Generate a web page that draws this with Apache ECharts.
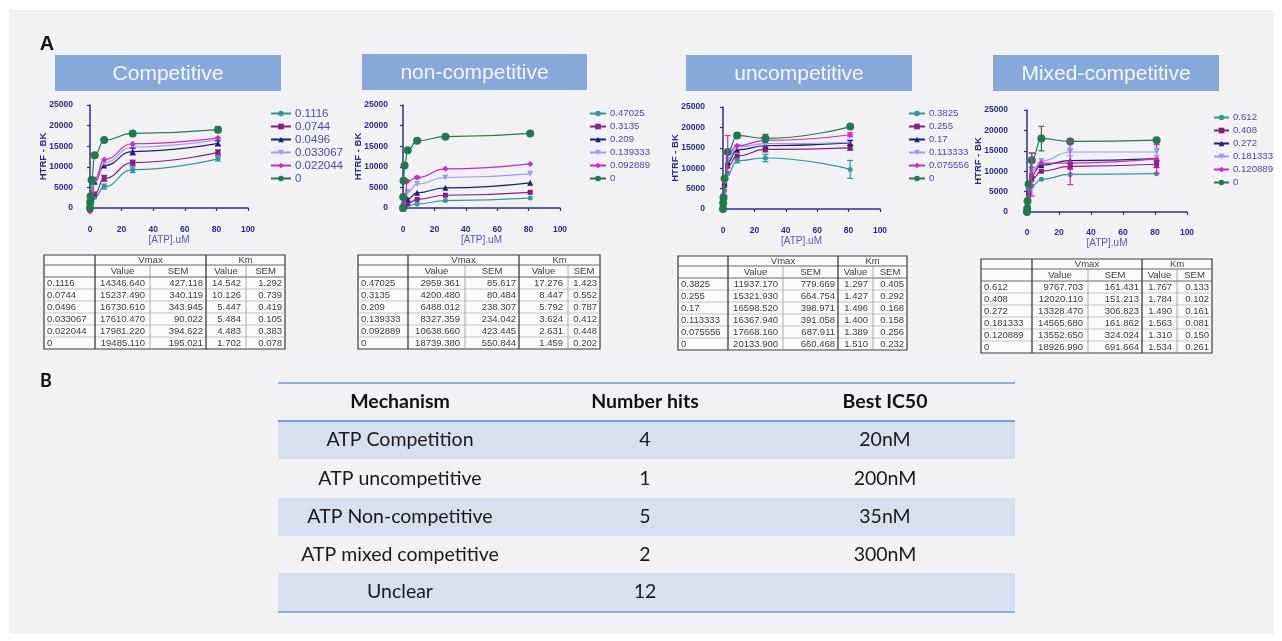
<!DOCTYPE html>
<html>
<head>
<meta charset="utf-8">
<script src="https://cdn.jsdelivr.net/npm/echarts@6/dist/echarts.min.js"></script>
<style>
html,body{margin:0;padding:0;background:#ffffff;}
#c{width:1282px;height:641px;}
</style>
</head>
<body>
<div id="c"></div>
<script>
// ---------------- DATA ----------------
const atpConc = [0, 0.111, 0.333, 1, 3, 9, 27, 81];
const panelTitles = ['Competitive', 'non-competitive', 'uncompetitive', 'Mixed-competitive'];
const axisNameY = 'HTRF - BK';
const axisNameX = '[ATP].uM';

const compNames = ['0.1116', '0.0744', '0.0496', '0.033067', '0.022044', '0'];
const compValues = [
  [-600, 200, 500, 1200, 2600, 5200, 9300, 12000],
  [-400, 300, 700, 1600, 3400, 7200, 11000, 13500],
  [-200, 500, 1200, 3000, 6400, 10300, 13700, 15700],
  [-300, 500, 1200, 3000, 6600, 11000, 14800, 16600],
  [-900, 500, 1400, 3400, 7000, 11800, 15600, 17000],
  [0, 1400, 2800, 6800, 12800, 16500, 18100, 19000]
];
// [series, point, error]
const compErrors = [[0,5,600],[0,6,700],[0,7,600],[1,5,700],[1,6,600],[1,7,600],[2,6,800],[2,7,600],[5,4,600],[5,7,700]];
const compTable = [
  [14346.640, 427.118, 14.542, 1.292],
  [15237.490, 340.119, 10.126, 0.739],
  [16730.610, 343.945, 5.447, 0.419],
  [17610.470, 90.022, 5.484, 0.105],
  [17981.220, 394.622, 4.483, 0.383],
  [19485.110, 195.021, 1.702, 0.078]
];

const noncompNames = ['0.47025', '0.3135', '0.209', '0.139333', '0.092889', '0'];
const noncompValues = [
  [0, 30, 100, 300, 600, 1000, 1800, 2400],
  [0, 50, 150, 500, 1200, 2100, 3100, 3800],
  [-100, 100, 300, 900, 2200, 3700, 4900, 6100],
  [0, 200, 600, 1800, 3900, 5800, 7400, 8300],
  [0, 400, 1200, 2700, 6500, 7400, 9500, 10700],
  [0, 2700, 6600, 10300, 14000, 16300, 17300, 18100]
];
const noncompErrors = [[5,6,300],[5,7,300],[4,5,300]];
const noncompTable = [
  [2959.361, 85.617, 17.276, 1.423],
  [4200.480, 80.484, 8.447, 0.552],
  [6488.012, 238.307, 5.792, 0.787],
  [8327.359, 234.042, 3.624, 0.412],
  [10638.660, 423.445, 2.631, 0.448],
  [18739.380, 550.844, 1.459, 0.202]
];

const uncompNames = ['0.3825', '0.255', '0.17', '0.113333', '0.075556', '0'];
const uncompValues = [
  [0, 500, 1800, 4500, 8700, 11800, 12500, 9700],
  [0, 800, 2600, 5800, 10500, 13000, 14600, 15000],
  [0, 1000, 3000, 6500, 11500, 14500, 15500, 16200],
  [0, 1000, 3000, 6500, 12000, 15200, 16000, 16300],
  [0, 1200, 3500, 7500, 13500, 15500, 16800, 18200],
  [0, 1500, 2800, 7500, 14000, 18000, 17300, 20200]
];
const uncompErrors = [[0,7,2200],[0,6,900],[0,5,500],[4,4,4500],[5,6,1000],[1,6,600],[1,7,600],[4,7,500],[2,7,600]];
const uncompTable = [
  [11937.170, 779.669, 1.297, 0.405],
  [15321.930, 664.754, 1.427, 0.292],
  [16598.520, 398.971, 1.496, 0.168],
  [16367.940, 391.058, 1.400, 0.158],
  [17668.160, 687.911, 1.389, 0.256],
  [20133.900, 660.468, 1.510, 0.232]
];

const mixedNames = ['0.612', '0.408', '0.272', '0.181333', '0.120889', '0'];
const mixedValues = [
  [0, 400, 1500, 3600, 6400, 8000, 9200, 9400],
  [0, 500, 2000, 4500, 8000, 10000, 11200, 11700],
  [0, 600, 2200, 4800, 9300, 11500, 12600, 13100],
  [0, 700, 2400, 5600, 10000, 12500, 14700, 14700],
  [0, 600, 2000, 4000, 9200, 12000, 12000, 13000],
  [0, 800, 2700, 6800, 12700, 18000, 17300, 17600]
];
const mixedErrors = [[5,5,3000],[5,4,1700],[4,6,5300],[4,4,5300],[4,7,3500],[3,6,900],[3,7,900],[1,7,800],[1,6,700]];
const mixedTable = [
  [9767.703, 161.431, 1.767, 0.133],
  [12020.110, 151.213, 1.784, 0.102],
  [13328.470, 306.823, 1.490, 0.161],
  [14565.680, 161.862, 1.563, 0.081],
  [13552.650, 324.024, 1.310, 0.150],
  [18926.990, 691.664, 1.534, 0.261]
];

const tableGroupHeaders = ['Vmax', 'Km'];
const tableSubHeaders = ['Value', 'SEM', 'Value', 'SEM'];

const summaryHeader = ['Mechanism', 'Number hits', 'Best IC50'];
const summaryMechanism = ['ATP Competition', 'ATP uncompetitive', 'ATP Non-competitive', 'ATP mixed competitive', 'Unclear'];
const summaryHits = ['4', '1', '5', '2', '12'];
const summaryIC50 = ['20nM', '200nM', '35nM', '300nM', ''];

// ---------------- STYLE / LAYOUT ----------------
const seriesStyles = [
  {color: '#2a9aa0', symbol: 'circle', size: 5},
  {color: '#8c1c80', symbol: 'rect', size: 5},
  {color: '#1e1e7c', symbol: 'triangle', size: 6},
  {color: '#9c9cf2', symbol: 'path://M0,0 L10,0 L5,9 Z', size: 6},
  {color: '#d426c6', symbol: 'diamond', size: 6},
  {color: '#1f7a4e', symbol: 'circle', size: 8}
];
const panels = [
  {names: compNames, values: compValues, errors: compErrors, table: compTable},
  {names: noncompNames, values: noncompValues, errors: noncompErrors, table: noncompTable},
  {names: uncompNames, values: uncompValues, errors: uncompErrors, table: uncompTable},
  {names: mixedNames, values: mixedValues, errors: mixedErrors, table: mixedTable}
];
const layout = [
  {grid: {left: 90, top: 105, width: 158, height: 103}, yOff: 12, xOff: 13, legend: {left: 270, top: 107, iw: 20, fs: 11.5}, box: [55, 55, 226, 36], tTop: 255, cols: [44, 95, 150, 206, 246, 285]},
  {grid: {left: 403, top: 105, width: 157, height: 103}, yOff: 10, xOff: 13, legend: {left: 589, top: 107, iw: 16, fs: 9.6}, box: [362, 54, 225, 36], tTop: 255, cols: [358, 408, 465, 519, 568, 600]},
  {grid: {left: 723, top: 107, width: 157, height: 102}, yOff: 13, xOff: 13, legend: {left: 908, top: 107, iw: 16, fs: 9.6}, box: [686, 55, 226, 36], tTop: 256, cols: [678, 728, 783, 838, 873, 907]},
  {grid: {left: 1027, top: 110, width: 160, height: 102}, yOff: 14, xOff: 12, legend: {left: 1213, top: 111, iw: 15, fs: 9.6}, box: [993, 55, 226, 36], tTop: 259, cols: [981, 1032, 1088, 1142, 1177, 1212]}
];
const AX = '#2e2e96';
const LBL = '#2a2a8c';
const SANS = '"Liberation Sans", Arial, sans-serif';
const BFONT = 'Lato, sans-serif';

// ---------------- BUILD ----------------
const grids = [], xAxes = [], yAxes = [], series = [], legends = [], graphics = [];

graphics.push({type: 'rect', z: -100, shape: {x: 9, y: 10, width: 1265, height: 624}, style: {fill: '#f2f2f4'}, silent: true});
graphics.push({type: 'text', x: 47, y: 44, style: {text: 'A', font: 'bold 20px ' + SANS, fill: '#111', align: 'center', verticalAlign: 'middle'}});
graphics.push({type: 'text', x: 46, y: 381, style: {text: 'B', font: 'bold 18px ' + BFONT, fill: '#111', align: 'center', verticalAlign: 'middle'}});

function hline(x1, x2, y, color, w) {
  return {type: 'line', shape: {x1: x1, y1: y, x2: x2, y2: y}, style: {stroke: color, lineWidth: w}, silent: true};
}
function vline(x, y1, y2, color, w) {
  return {type: 'line', shape: {x1: x, y1: y1, x2: x, y2: y2}, style: {stroke: color, lineWidth: w}, silent: true};
}
function txt(x, y, s, font, color, align) {
  return {type: 'text', x: x, y: y, silent: true, style: {text: s, font: font, fill: color, align: align || 'center', verticalAlign: 'middle'}};
}
function plainNum(v) { return String(v); }

panels.forEach(function (p, pi) {
  const L = layout[pi];
  grids.push(Object.assign({}, L.grid));
  xAxes.push({
    type: 'value', gridIndex: pi, min: 0, max: 100, interval: 20, offset: L.xOff,
    name: axisNameX, nameLocation: 'middle', nameGap: 14, nameMoveOverlap: false,
    nameTextStyle: {color: '#5656c8', fontSize: 10, fontFamily: SANS},
    axisLine: {show: true, lineStyle: {color: AX, width: 1.5}},
    axisTick: {show: true, length: 3, lineStyle: {color: AX, width: 1.2}},
    axisLabel: {color: LBL, fontSize: 8.5, fontWeight: 'bold', fontFamily: SANS, margin: 4, formatter: plainNum},
    splitLine: {show: false}
  });
  yAxes.push({
    type: 'value', gridIndex: pi, min: 0, max: 25000, interval: 5000, offset: L.yOff,
    name: axisNameY, nameLocation: 'middle', nameGap: 30, nameRotate: 90, nameMoveOverlap: false,
    nameTextStyle: {color: LBL, fontSize: 9.5, fontWeight: 'bold', fontFamily: SANS},
    axisLine: {show: true, lineStyle: {color: AX, width: 1.5}},
    axisTick: {show: true, length: 3, lineStyle: {color: AX, width: 1.2}},
    axisLabel: {color: LBL, fontSize: 8.5, fontWeight: 'bold', fontFamily: SANS, margin: 5, formatter: plainNum},
    splitLine: {show: false}
  });
  p.names.forEach(function (nm, si) {
    const st = seriesStyles[si];
    series.push({
      type: 'line', name: nm, xAxisIndex: pi, yAxisIndex: pi,
      data: atpConc.map(function (x, k) { return [x, p.values[si][k]]; }),
      smooth: 0.5, smoothMonotone: 'x', clip: false,
      symbol: st.symbol, symbolSize: st.size, showSymbol: true,
      itemStyle: {color: st.color}, lineStyle: {color: st.color, width: 1.2},
      z: 3 + si, animation: false, silent: true
    });
  });
  series.push({
    type: 'custom', xAxisIndex: pi, yAxisIndex: pi, clip: false, animation: false, silent: true, z: 10,
    data: p.errors.map(function (e) { return [atpConc[e[1]], p.values[e[0]][e[1]], e[2], e[0]]; }),
    encode: {x: 0, y: 1},
    renderItem: function (params, api) {
      const x = api.value(0), y = api.value(1), er = api.value(2), c = seriesStyles[api.value(3)].color;
      const a = api.coord([x, y + er]), b = api.coord([x, y - er]);
      const sty = {stroke: c, lineWidth: 1.2};
      return {type: 'group', children: [
        {type: 'line', shape: {x1: a[0], y1: a[1], x2: b[0], y2: b[1]}, style: sty},
        {type: 'line', shape: {x1: a[0] - 3, y1: a[1], x2: a[0] + 3, y2: a[1]}, style: sty},
        {type: 'line', shape: {x1: b[0] - 3, y1: b[1], x2: b[0] + 3, y2: b[1]}, style: sty}
      ]};
    }
  });
  legends.push({
    data: p.names, left: L.legend.left, top: L.legend.top, orient: 'vertical', padding: 0,
    itemWidth: L.legend.iw, itemHeight: 7, itemGap: 0, selectedMode: false,
    textStyle: {color: '#4a4aac', fontSize: L.legend.fs, lineHeight: 13, fontFamily: SANS, padding: [0, 0, 0, -1]}
  });

  // title box
  const bx = L.box;
  graphics.push({type: 'rect', silent: true, shape: {x: bx[0], y: bx[1], width: bx[2], height: bx[3]}, style: {fill: '#86a9da'}});
  graphics.push(txt(bx[0] + bx[2] / 2, bx[1] + bx[3] / 2 + 1, panelTitles[pi], '21px ' + SANS, '#f4f7fc'));

  // kinetics table
  const c = L.cols, top = L.tTop;
  const rowH = [10, 12, 12, 12, 12, 12, 12, 12];
  const ys = [top];
  rowH.forEach(function (h) { ys.push(ys[ys.length - 1] + h); });
  const bottom = ys[ys.length - 1];
  graphics.push({type: 'rect', silent: true, shape: {x: c[0], y: top, width: c[5] - c[0], height: bottom - top}, style: {fill: '#fbfbfb', stroke: '#3a3a3a', lineWidth: 1.2}});
  for (let r = 1; r < ys.length - 1; r++) {
    graphics.push(hline(c[0], c[5], ys[r], r <= 2 ? '#555' : '#b0b0b0', r <= 2 ? 0.9 : 0.7));
  }
  graphics.push(vline(c[1], top, bottom, '#3a3a3a', 1.3));
  graphics.push(vline(c[3], top, bottom, '#3a3a3a', 1.3));
  graphics.push(vline(c[2], ys[1], bottom, '#9a9a9a', 0.8));
  graphics.push(vline(c[4], ys[1], bottom, '#9a9a9a', 0.8));
  const f = '9.5px ' + SANS, tc = '#3c3c3c';
  graphics.push(txt((c[1] + c[3]) / 2, (ys[0] + ys[1]) / 2 + 0.5, tableGroupHeaders[0], f, tc));
  graphics.push(txt((c[3] + c[5]) / 2, (ys[0] + ys[1]) / 2 + 0.5, tableGroupHeaders[1], f, tc));
  for (let k = 0; k < 4; k++) {
    graphics.push(txt((c[k + 1] + c[k + 2]) / 2, (ys[1] + ys[2]) / 2, tableSubHeaders[k], f, tc));
  }
  p.table.forEach(function (row, ri) {
    const yc = (ys[ri + 2] + ys[ri + 3]) / 2;
    graphics.push(txt(c[0] + 3, yc, p.names[ri], f, tc, 'left'));
    graphics.push(txt(c[2] - 5, yc, row[0].toFixed(3), f, tc, 'right'));
    graphics.push(txt(c[3] - 3, yc, row[1].toFixed(3), f, tc, 'right'));
    graphics.push(txt(c[4] - 5, yc, row[2].toFixed(3), f, tc, 'right'));
    graphics.push(txt(c[5] - 3, yc, row[3].toFixed(3), f, tc, 'right'));
  });
});

// summary table B
(function () {
  const left = 278, right = 1015;
  const ys = [383, 421, 459, 498, 536, 573, 611];
  const cx = [400, 645, 885];
  const bf = '19.5px ' + BFONT;
  for (let r = 0; r < 5; r += 2) {
    graphics.push({type: 'rect', silent: true, shape: {x: left, y: ys[r + 1], width: right - left, height: ys[r + 2] - ys[r + 1]}, style: {fill: '#d5e1ef'}});
  }
  graphics.push(hline(left, right, ys[0], '#8db1dd', 2));
  graphics.push(hline(left, right, ys[1], '#76a0d4', 2));
  graphics.push(hline(left, right, ys[6] + 1, '#8db1dd', 2));
  summaryHeader.forEach(function (h, k) {
    graphics.push(txt(cx[k], (ys[0] + ys[1]) / 2, h, 'bold ' + bf, '#111'));
  });
  summaryMechanism.forEach(function (m, r) {
    const yc = (ys[r + 1] + ys[r + 2]) / 2;
    graphics.push(txt(cx[0], yc, m, bf, '#1a1a1a'));
    graphics.push(txt(cx[1], yc, summaryHits[r], bf, '#1a1a1a'));
    if (summaryIC50[r]) graphics.push(txt(cx[2], yc, summaryIC50[r], bf, '#1a1a1a'));
  });
})();

const chart = echarts.init(document.getElementById('c'));
chart.setOption({
  animation: false,
  backgroundColor: '#ffffff',
  grid: grids,
  xAxis: xAxes,
  yAxis: yAxes,
  legend: legends,
  series: series,
  graphic: {elements: graphics}
});
</script>
</body>
</html>
